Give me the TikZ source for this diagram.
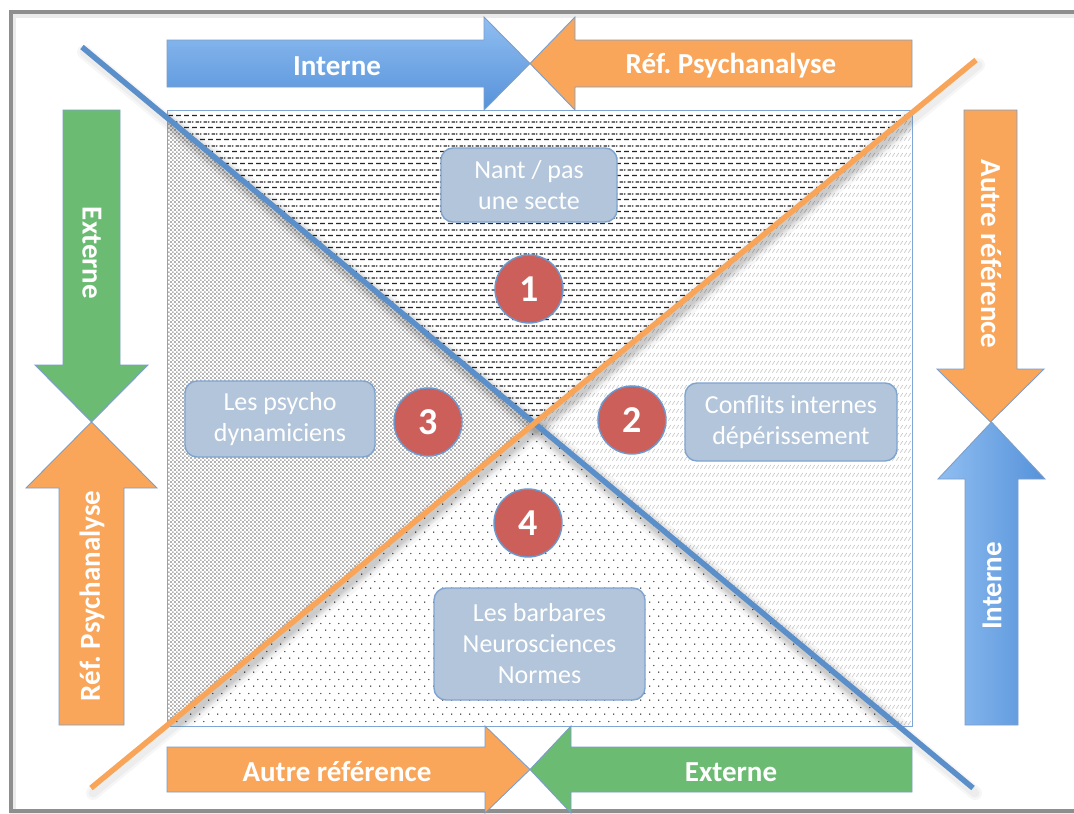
\documentclass[tikz,border=0pt]{standalone}
\usepackage{fontspec}
\setmainfont{Carlito}
\usetikzlibrary{patterns}
\frenchspacing

\definecolor{frameGray}{HTML}{8E8E8E}
\definecolor{blueLight}{HTML}{90BEF1}
\definecolor{blueDark}{HTML}{5692DA}
\definecolor{arrOrange}{HTML}{F9A65A}
\definecolor{arrGreen}{HTML}{6BBB72}
\definecolor{arrEdge}{HTML}{7C9ECA}
\definecolor{lineBlue}{HTML}{5B8FCA}
\definecolor{lineOrange}{HTML}{F8A55A}
\definecolor{rectEdge}{HTML}{7FA6D4}
\definecolor{boxFill}{HTML}{B2C5DA}
\definecolor{boxEdge}{HTML}{7FA4CF}
\definecolor{discRed}{HTML}{CD5F5B}
\definecolor{discEdge}{HTML}{6B98CF}
\definecolor{dashInk}{HTML}{262626}
\definecolor{dotGray}{HTML}{B2B2B2}
\definecolor{slashGray}{HTML}{C4C4C4}
\definecolor{dotInk}{HTML}{222222}

% staggered short dashes
\pgfdeclarepatternformonly{dashrows}{\pgfqpoint{0pt}{0pt}}{\pgfqpoint{8pt}{12pt}}{\pgfqpoint{8pt}{12pt}}{%
  \pgfpathrectangle{\pgfqpoint{0pt}{2pt}}{\pgfqpoint{5.5pt}{1.4pt}}%
  \pgfpathrectangle{\pgfqpoint{4pt}{8pt}}{\pgfqpoint{4pt}{1.4pt}}%
  \pgfpathrectangle{\pgfqpoint{0pt}{8pt}}{\pgfqpoint{1.5pt}{1.4pt}}%
  \pgfusepath{fill}}
% sparse staggered dots
\pgfdeclarepatternformonly{sparsedots}{\pgfqpoint{0pt}{0pt}}{\pgfqpoint{9pt}{14pt}}{\pgfqpoint{9pt}{14pt}}{%
  \pgfpathcircle{\pgfqpoint{2pt}{2pt}}{0.75pt}%
  \pgfpathcircle{\pgfqpoint{6.5pt}{9pt}}{0.75pt}%
  \pgfusepath{fill}}
% dense small squares
\pgfdeclarepatternformonly{graysquares}{\pgfqpoint{0pt}{0pt}}{\pgfqpoint{4.4pt}{4.4pt}}{\pgfqpoint{4.4pt}{4.4pt}}{%
  \pgfpathrectangle{\pgfqpoint{0.2pt}{0.2pt}}{\pgfqpoint{1.8pt}{1.8pt}}%
  \pgfpathrectangle{\pgfqpoint{2.4pt}{2.4pt}}{\pgfqpoint{1.8pt}{1.8pt}}%
  \pgfusepath{fill}}
% rows of short slashes
\pgfdeclarepatternformonly{slashrows}{\pgfqpoint{0pt}{0pt}}{\pgfqpoint{3.5pt}{8pt}}{\pgfqpoint{3.5pt}{8pt}}{%
  \pgfsetlinewidth{0.7pt}%
  \pgfpathmoveto{\pgfqpoint{0.4pt}{1.5pt}}%
  \pgfpathlineto{\pgfqpoint{3.1pt}{5.5pt}}%
  \pgfusepath{stroke}}

\begin{document}
\begin{tikzpicture}[x=1pt,y=-1pt,
  arrowshape/.style={draw=arrEdge, line width=0.9pt, line join=miter},
  arrowlabel/.style={text=white, font=\fontsize{29}{34}\selectfont\bfseries},
  box/.style={draw=boxEdge, fill=boxFill, line width=1.4pt, rounded corners=12pt,
    text=white, align=center, font=\fontsize{26}{31}\selectfont, inner sep=0pt},
  numdisc/.style={circle, fill=discRed, draw=discEdge, line width=1.4pt, minimum size=68pt,
    inner sep=0pt, text=white, font=\fontsize{38}{42}\selectfont\bfseries},
  diag/.style={line width=5.5pt, line cap=butt},
  diagshadow/.style={line width=#1, black, opacity=0.035, line cap=round}
]
\useasboundingbox (0,0) rectangle (1074,814);
\fill[white] (0,0) rectangle (1074,814);

% outer frame
\draw[black, opacity=0.08, line width=6pt] (13,15) rectangle (1095,814);
\draw[frameGray, line width=3.5pt] (11,12) rectangle (1095,811);

% key points of the central square and the two diagonals
\coordinate (rTL) at (167,110);
\coordinate (rBR) at (912,726);
\coordinate (B1) at (82,47);
\coordinate (B2) at (973,788);
\coordinate (O1) at (976,60);
\coordinate (O2) at (91,788);
\coordinate (C) at (intersection of B1--B2 and O1--O2);

% the four textured sectors
\begin{scope}
  \clip (rTL) rectangle (rBR);
  \fill[white] (rTL) rectangle (rBR);
  \fill[pattern=dashrows, pattern color=dashInk]
    (B1) -- (C) -- (O1) -- (1074,0) -- (0,0) -- cycle;
  \fill[pattern=slashrows, pattern color=slashGray]
    (C) -- (O1) -- (1074,0) -- (1074,814) -- (B2) -- cycle;
  \fill[pattern=sparsedots, pattern color=dotInk]
    (C) -- (B2) -- (973,814) -- (91,814) -- (O2) -- cycle;
  \fill[pattern=graysquares, pattern color=dotGray]
    (C) -- (O2) -- (0,814) -- (0,0) -- (B1) -- cycle;
  % soft shadows of the diagonals
  \foreach \w in {22,16,11,7} {
    \draw[diagshadow=\w pt] ([shift={(2,5)}]B1) -- ([shift={(2,5)}]B2);
    \draw[diagshadow=\w pt] ([shift={(2,5)}]O1) -- ([shift={(2,5)}]O2);
  }
\end{scope}
\draw[rectEdge, line width=1pt] (rTL) rectangle (rBR);

% diagonals outside the square keep a faint shadow too
\foreach \w in {14,9} {
  \draw[diagshadow=\w pt] ([shift={(2,5)}]B1) -- ([shift={(2,5)}]B2);
  \draw[diagshadow=\w pt] ([shift={(2,5)}]O1) -- ([shift={(2,5)}]O2);
}
\draw[diag, lineBlue] (B1) -- (B2);
\draw[diag, lineOrange] (O1) -- (O2);

% top arrows
\shade[arrowshape, top color=blueLight, bottom color=blueDark]
  (167,40) -- (484,40) -- (484,17) -- (530,63.5) -- (484,110) -- (484,87) -- (167,87) -- cycle;
\fill[arrowshape, fill=arrOrange]
  (912,40) -- (575,40) -- (575,17) -- (530,63.5) -- (575,110) -- (575,87) -- (912,87) -- cycle;
\node[arrowlabel] (topL) at (337,66) {Interne};
\node[arrowlabel] (topR) at (731,66) {Réf. Psychanalyse};

% bottom arrows
\fill[arrowshape, fill=arrOrange]
  (167,747) -- (485,747) -- (485,726) -- (530,769.5) -- (485,813) -- (485,792) -- (167,792) -- cycle;
\fill[arrowshape, fill=arrGreen]
  (912,747) -- (571,747) -- (571,726) -- (530,769.5) -- (571,813) -- (571,792) -- (912,792) -- cycle;
\node[arrowlabel] (botL) at (337,772) {Autre référence};
\node[arrowlabel] (botR) at (731,772) {Externe};

% left arrows
\fill[arrowshape, fill=arrGreen]
  (63,110) -- (120,110) -- (120,365) -- (148,365) -- (91.5,422) -- (35,365) -- (63,365) -- cycle;
\fill[arrowshape, fill=arrOrange]
  (59,725) -- (124,725) -- (124,488) -- (157,488) -- (91.5,422) -- (26,488) -- (59,488) -- cycle;
\node[arrowlabel, rotate=-90] (leftT) at (92,253) {Externe};
\node[arrowlabel, rotate=90] (leftB) at (92,596) {Réf. Psychanalyse};

% right arrows
\fill[arrowshape, fill=arrOrange]
  (964,110) -- (1017,110) -- (1017,369) -- (1044,369) -- (990.5,422) -- (937,369) -- (964,369) -- cycle;
\shade[arrowshape, left color=blueLight, right color=blueDark]
  (965,725) -- (1018,725) -- (1018,479) -- (1045,479) -- (991.5,422) -- (938,479) -- (965,479) -- cycle;
\node[arrowlabel, rotate=-90] (rightT) at (991,254) {Autre référence};
\node[arrowlabel, rotate=90] (rightB) at (992,586) {Interne};

% labelled boxes
\node[box, minimum width=176pt, minimum height=74pt] (nant) at (529,185) {Nant / pas\\une secte};
\node[box, minimum width=190pt, minimum height=76pt] (psy) at (280,419) {Les psycho\\dynamiciens};
\node[box, minimum width=212pt, minimum height=78pt] (conf) at (791,422) {Conflits internes\\dépérissement};
\node[box, minimum width=211pt, minimum height=112pt] (barb) at (539.5,644) {Les barbares\\Neurosciences\\Normes};

% numbered discs
\node[numdisc] (n1) at (529,289) {1};
\node[numdisc] (n2) at (632,420) {2};
\node[numdisc] (n3) at (428,422) {3};
\node[numdisc] (n4) at (528,523) {4};
\end{tikzpicture}
\end{document}
